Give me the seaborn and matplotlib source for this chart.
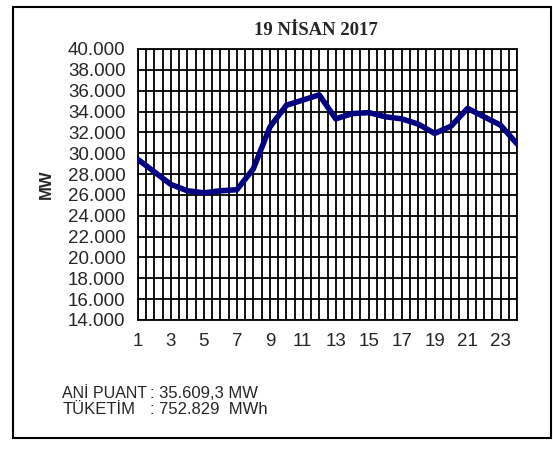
import numpy as np
import pandas as pd
import matplotlib
matplotlib.use("Agg")
import matplotlib.pyplot as plt
from matplotlib.patches import Rectangle
from matplotlib.ticker import FuncFormatter, MultipleLocator
import seaborn as sns

# hourly load, MW
hours = list(range(1, 25))
load_mw = [29400, 28200, 27000, 26400, 26200, 26400, 26500, 28500,
           32500, 34600, 35100, 35600, 33300, 33800, 33900, 33500,
           33300, 32800, 31900, 32600, 34300, 33500, 32700, 30900]
title = "19 NİSAN 2017"
peak_text = ": 35.609,3 MW"
energy_text = ": 752.829  MWh"

df = pd.DataFrame({"hour": hours, "mw": load_mw})

sns.set_style("white")
plt.rcParams["font.family"] = ["Liberation Sans", "DejaVu Sans"]

W, H = 553, 449
fig = plt.figure(figsize=(W / 100, H / 100), dpi=100)

# plot area in pixel coords
L, R, T, B = 138, 517, 49, 320
ax = fig.add_axes([L / W, 1 - B / H, (R - L) / W, (B - T) / H])

sns.lineplot(data=df, x="hour", y="mw", color="#000080", lw=4, ax=ax,
             solid_joinstyle="round", solid_capstyle="round", zorder=5)

ax.set_xlim(1, 24)
ax.set_ylim(14000, 40000)
ax.xaxis.set_major_locator(MultipleLocator(1))
ax.xaxis.set_minor_locator(MultipleLocator(0.5))
ax.yaxis.set_major_locator(MultipleLocator(2000))
ax.xaxis.set_major_formatter(FuncFormatter(lambda v, p: f"{int(v)}" if int(v) % 2 == 1 else ""))
ax.yaxis.set_major_formatter(FuncFormatter(lambda v, p: f"{int(v):,}".replace(",", ".")))

ax.grid(which="both", axis="x", color="black", lw=1.3)
ax.grid(which="major", axis="y", color="black", lw=1.3)
ax.tick_params(axis="both", which="major", direction="out", length=5, width=1.3,
               color="black", labelsize=13.5, pad=4)
ax.tick_params(axis="x", which="minor", length=0)
for s in ax.spines.values():
    s.set_color("black")
    s.set_linewidth(1.3)

ax.set_xlabel("")
ax.set_ylabel("MW", fontsize=12, fontweight="bold", labelpad=10)
ax.set_title(title, fontsize=13.5, fontweight="bold", family=["Liberation Serif"],
             pad=10, x=0.47)

fig.text(62 / W, 1 - 393 / H, "ANİ PUANT", fontsize=11.5, va="center", ha="left")
fig.text(150 / W, 1 - 393 / H, peak_text, fontsize=12, va="center", ha="left")
fig.text(63 / W, 1 - 410 / H, "TÜKETİM", fontsize=12, va="center", ha="left")
fig.text(150 / W, 1 - 410 / H, energy_text, fontsize=12, va="center", ha="left")

# outer frame
fig.patches.append(Rectangle((13 / W, 1 - 438 / H), (551 - 13) / W, (438 - 7) / H,
                             transform=fig.transFigure, fill=False, lw=1.5, ec="black"))

fig.savefig("out.png", dpi=100)
